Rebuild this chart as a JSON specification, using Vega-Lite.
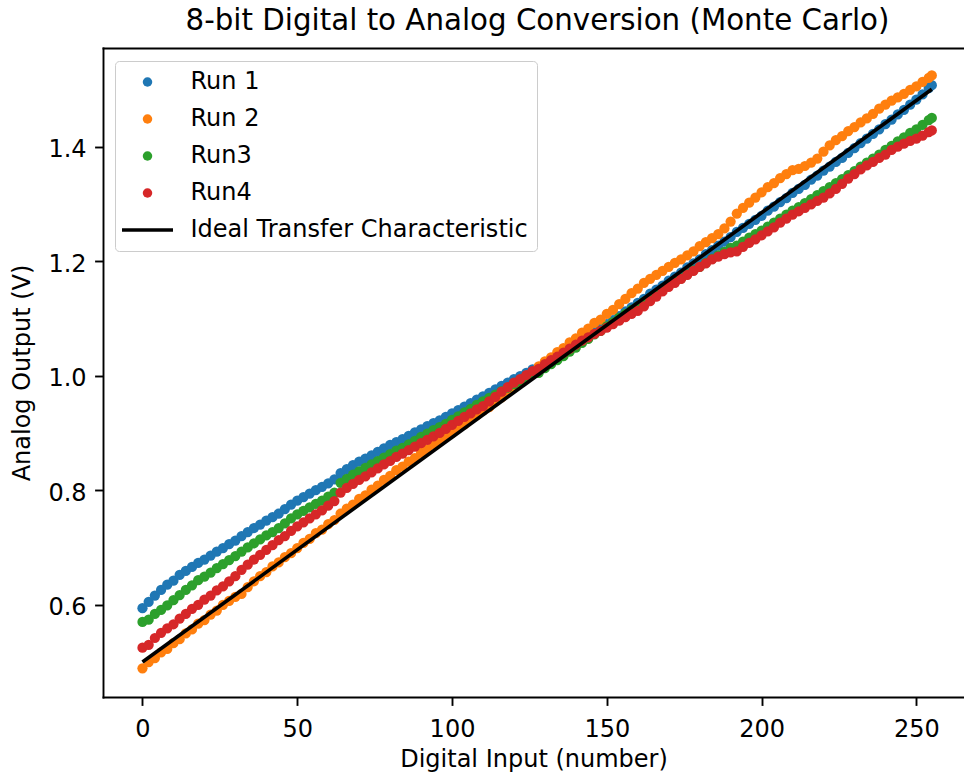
{
"$schema": "https://vega.github.io/schema/vega-lite/v6.json",
"autosize": {"type": "none"},
"padding": {"left": 103, "top": 48, "right": 0, "bottom": 80},
"width": 861,
"height": 649,
"config": {"font": "DejaVu Sans", "view": {"stroke": null}},
"title": {"text": "8-bit Digital to Analog Conversion (Monte Carlo)", "fontSize": 29.3, "font": "DejaVu Sans", "fontWeight": "normal", "color": "black", "anchor": "middle", "frame": "group", "baseline": "alphabetic", "offset": -11, "dx": 4},
"datasets": {
"run1": [{"x":0,"y":0.594},{"x":2,"y":0.605},{"x":4,"y":0.616},{"x":6,"y":0.626},{"x":8,"y":0.635},{"x":10,"y":0.642},{"x":12,"y":0.652},{"x":14,"y":0.659},{"x":16,"y":0.666},{"x":18,"y":0.673},{"x":20,"y":0.679},{"x":22,"y":0.686},{"x":24,"y":0.693},{"x":26,"y":0.699},{"x":28,"y":0.706},{"x":30,"y":0.712},{"x":32,"y":0.720},{"x":34,"y":0.727},{"x":36,"y":0.734},{"x":38,"y":0.740},{"x":40,"y":0.747},{"x":42,"y":0.753},{"x":44,"y":0.759},{"x":46,"y":0.767},{"x":48,"y":0.775},{"x":50,"y":0.782},{"x":52,"y":0.788},{"x":54,"y":0.794},{"x":56,"y":0.800},{"x":58,"y":0.806},{"x":60,"y":0.812},{"x":62,"y":0.819},{"x":64,"y":0.830},{"x":66,"y":0.837},{"x":68,"y":0.844},{"x":70,"y":0.850},{"x":72,"y":0.855},{"x":74,"y":0.861},{"x":76,"y":0.867},{"x":78,"y":0.873},{"x":80,"y":0.879},{"x":82,"y":0.884},{"x":84,"y":0.889},{"x":86,"y":0.895},{"x":88,"y":0.901},{"x":90,"y":0.906},{"x":92,"y":0.912},{"x":94,"y":0.917},{"x":96,"y":0.922},{"x":98,"y":0.928},{"x":100,"y":0.934},{"x":102,"y":0.940},{"x":104,"y":0.946},{"x":106,"y":0.952},{"x":108,"y":0.958},{"x":110,"y":0.964},{"x":112,"y":0.970},{"x":114,"y":0.976},{"x":116,"y":0.982},{"x":118,"y":0.988},{"x":120,"y":0.994},{"x":122,"y":0.999},{"x":124,"y":1.005},{"x":126,"y":1.011},{"x":128,"y":1.012},{"x":130,"y":1.019},{"x":132,"y":1.026},{"x":134,"y":1.032},{"x":136,"y":1.039},{"x":138,"y":1.046},{"x":140,"y":1.054},{"x":142,"y":1.061},{"x":144,"y":1.068},{"x":146,"y":1.076},{"x":148,"y":1.082},{"x":150,"y":1.090},{"x":152,"y":1.097},{"x":154,"y":1.104},{"x":156,"y":1.112},{"x":158,"y":1.119},{"x":160,"y":1.127},{"x":162,"y":1.134},{"x":164,"y":1.143},{"x":166,"y":1.150},{"x":168,"y":1.157},{"x":170,"y":1.166},{"x":172,"y":1.173},{"x":174,"y":1.180},{"x":176,"y":1.189},{"x":178,"y":1.196},{"x":180,"y":1.203},{"x":182,"y":1.212},{"x":184,"y":1.219},{"x":186,"y":1.227},{"x":188,"y":1.234},{"x":190,"y":1.242},{"x":192,"y":1.251},{"x":194,"y":1.258},{"x":196,"y":1.265},{"x":198,"y":1.272},{"x":200,"y":1.279},{"x":202,"y":1.288},{"x":204,"y":1.295},{"x":206,"y":1.303},{"x":208,"y":1.310},{"x":210,"y":1.319},{"x":212,"y":1.326},{"x":214,"y":1.333},{"x":216,"y":1.342},{"x":218,"y":1.349},{"x":220,"y":1.358},{"x":222,"y":1.365},{"x":224,"y":1.373},{"x":226,"y":1.380},{"x":228,"y":1.389},{"x":230,"y":1.397},{"x":232,"y":1.406},{"x":234,"y":1.414},{"x":236,"y":1.422},{"x":238,"y":1.430},{"x":240,"y":1.439},{"x":242,"y":1.447},{"x":244,"y":1.456},{"x":246,"y":1.464},{"x":248,"y":1.473},{"x":250,"y":1.482},{"x":252,"y":1.491},{"x":254,"y":1.502},{"x":255,"y":1.507}],
"run2": [{"x":0,"y":0.489},{"x":2,"y":0.500},{"x":4,"y":0.507},{"x":6,"y":0.517},{"x":8,"y":0.523},{"x":10,"y":0.533},{"x":12,"y":0.540},{"x":14,"y":0.550},{"x":16,"y":0.557},{"x":18,"y":0.567},{"x":20,"y":0.573},{"x":22,"y":0.583},{"x":24,"y":0.590},{"x":26,"y":0.600},{"x":28,"y":0.607},{"x":30,"y":0.614},{"x":32,"y":0.619},{"x":34,"y":0.631},{"x":36,"y":0.641},{"x":38,"y":0.650},{"x":40,"y":0.657},{"x":42,"y":0.667},{"x":44,"y":0.674},{"x":46,"y":0.683},{"x":48,"y":0.690},{"x":50,"y":0.699},{"x":52,"y":0.708},{"x":54,"y":0.715},{"x":56,"y":0.725},{"x":58,"y":0.731},{"x":60,"y":0.741},{"x":62,"y":0.748},{"x":64,"y":0.759},{"x":66,"y":0.768},{"x":68,"y":0.775},{"x":70,"y":0.785},{"x":72,"y":0.791},{"x":74,"y":0.801},{"x":76,"y":0.808},{"x":78,"y":0.818},{"x":80,"y":0.825},{"x":82,"y":0.835},{"x":84,"y":0.841},{"x":86,"y":0.850},{"x":88,"y":0.856},{"x":90,"y":0.865},{"x":92,"y":0.871},{"x":94,"y":0.880},{"x":96,"y":0.885},{"x":98,"y":0.894},{"x":100,"y":0.900},{"x":102,"y":0.909},{"x":104,"y":0.915},{"x":106,"y":0.924},{"x":108,"y":0.931},{"x":110,"y":0.939},{"x":112,"y":0.945},{"x":114,"y":0.955},{"x":116,"y":0.962},{"x":118,"y":0.972},{"x":120,"y":0.979},{"x":122,"y":0.988},{"x":124,"y":0.997},{"x":126,"y":1.006},{"x":128,"y":1.016},{"x":130,"y":1.025},{"x":132,"y":1.032},{"x":134,"y":1.041},{"x":136,"y":1.048},{"x":138,"y":1.058},{"x":140,"y":1.065},{"x":142,"y":1.075},{"x":144,"y":1.082},{"x":146,"y":1.092},{"x":148,"y":1.098},{"x":150,"y":1.108},{"x":152,"y":1.115},{"x":154,"y":1.125},{"x":156,"y":1.134},{"x":158,"y":1.144},{"x":160,"y":1.152},{"x":162,"y":1.162},{"x":164,"y":1.169},{"x":166,"y":1.176},{"x":168,"y":1.183},{"x":170,"y":1.190},{"x":172,"y":1.197},{"x":174,"y":1.203},{"x":176,"y":1.210},{"x":178,"y":1.217},{"x":180,"y":1.226},{"x":182,"y":1.233},{"x":184,"y":1.240},{"x":186,"y":1.247},{"x":188,"y":1.257},{"x":190,"y":1.269},{"x":192,"y":1.283},{"x":194,"y":1.293},{"x":196,"y":1.302},{"x":198,"y":1.311},{"x":200,"y":1.320},{"x":202,"y":1.329},{"x":204,"y":1.336},{"x":206,"y":1.345},{"x":208,"y":1.352},{"x":210,"y":1.359},{"x":212,"y":1.361},{"x":214,"y":1.366},{"x":216,"y":1.372},{"x":218,"y":1.379},{"x":220,"y":1.391},{"x":222,"y":1.402},{"x":224,"y":1.411},{"x":226,"y":1.418},{"x":228,"y":1.427},{"x":230,"y":1.434},{"x":232,"y":1.442},{"x":234,"y":1.449},{"x":236,"y":1.457},{"x":238,"y":1.466},{"x":240,"y":1.473},{"x":242,"y":1.480},{"x":244,"y":1.486},{"x":246,"y":1.492},{"x":248,"y":1.499},{"x":250,"y":1.505},{"x":252,"y":1.513},{"x":254,"y":1.520},{"x":255,"y":1.524}],
"run3": [{"x":0,"y":0.570},{"x":2,"y":0.574},{"x":4,"y":0.584},{"x":6,"y":0.591},{"x":8,"y":0.599},{"x":10,"y":0.608},{"x":12,"y":0.617},{"x":14,"y":0.626},{"x":16,"y":0.634},{"x":18,"y":0.643},{"x":20,"y":0.649},{"x":22,"y":0.656},{"x":24,"y":0.664},{"x":26,"y":0.671},{"x":28,"y":0.678},{"x":30,"y":0.685},{"x":32,"y":0.693},{"x":34,"y":0.700},{"x":36,"y":0.707},{"x":38,"y":0.714},{"x":40,"y":0.721},{"x":42,"y":0.727},{"x":44,"y":0.734},{"x":46,"y":0.742},{"x":48,"y":0.751},{"x":50,"y":0.758},{"x":52,"y":0.764},{"x":54,"y":0.770},{"x":56,"y":0.776},{"x":58,"y":0.782},{"x":60,"y":0.789},{"x":62,"y":0.796},{"x":64,"y":0.813},{"x":66,"y":0.820},{"x":68,"y":0.827},{"x":70,"y":0.833},{"x":72,"y":0.839},{"x":74,"y":0.845},{"x":76,"y":0.851},{"x":78,"y":0.857},{"x":80,"y":0.863},{"x":82,"y":0.869},{"x":84,"y":0.874},{"x":86,"y":0.880},{"x":88,"y":0.886},{"x":90,"y":0.893},{"x":92,"y":0.899},{"x":94,"y":0.905},{"x":96,"y":0.910},{"x":98,"y":0.916},{"x":100,"y":0.923},{"x":102,"y":0.929},{"x":104,"y":0.936},{"x":106,"y":0.942},{"x":108,"y":0.949},{"x":110,"y":0.955},{"x":112,"y":0.961},{"x":114,"y":0.967},{"x":116,"y":0.973},{"x":118,"y":0.979},{"x":120,"y":0.985},{"x":122,"y":0.990},{"x":124,"y":0.996},{"x":126,"y":1.003},{"x":128,"y":1.005},{"x":130,"y":1.013},{"x":132,"y":1.020},{"x":134,"y":1.027},{"x":136,"y":1.034},{"x":138,"y":1.042},{"x":140,"y":1.049},{"x":142,"y":1.057},{"x":144,"y":1.064},{"x":146,"y":1.072},{"x":148,"y":1.078},{"x":150,"y":1.086},{"x":152,"y":1.093},{"x":154,"y":1.101},{"x":156,"y":1.108},{"x":158,"y":1.115},{"x":160,"y":1.121},{"x":162,"y":1.129},{"x":164,"y":1.136},{"x":166,"y":1.143},{"x":168,"y":1.150},{"x":170,"y":1.157},{"x":172,"y":1.164},{"x":174,"y":1.170},{"x":176,"y":1.177},{"x":178,"y":1.184},{"x":180,"y":1.190},{"x":182,"y":1.197},{"x":184,"y":1.204},{"x":186,"y":1.210},{"x":188,"y":1.216},{"x":190,"y":1.223},{"x":192,"y":1.227},{"x":194,"y":1.234},{"x":196,"y":1.241},{"x":198,"y":1.247},{"x":200,"y":1.253},{"x":202,"y":1.260},{"x":204,"y":1.267},{"x":206,"y":1.274},{"x":208,"y":1.281},{"x":210,"y":1.288},{"x":212,"y":1.294},{"x":214,"y":1.301},{"x":216,"y":1.308},{"x":218,"y":1.315},{"x":220,"y":1.322},{"x":222,"y":1.329},{"x":224,"y":1.336},{"x":226,"y":1.343},{"x":228,"y":1.350},{"x":230,"y":1.357},{"x":232,"y":1.365},{"x":234,"y":1.372},{"x":236,"y":1.379},{"x":238,"y":1.386},{"x":240,"y":1.394},{"x":242,"y":1.401},{"x":244,"y":1.409},{"x":246,"y":1.416},{"x":248,"y":1.424},{"x":250,"y":1.430},{"x":252,"y":1.438},{"x":254,"y":1.446},{"x":255,"y":1.450}],
"run4": [{"x":0,"y":0.525},{"x":2,"y":0.530},{"x":4,"y":0.542},{"x":6,"y":0.551},{"x":8,"y":0.559},{"x":10,"y":0.566},{"x":12,"y":0.576},{"x":14,"y":0.584},{"x":16,"y":0.593},{"x":18,"y":0.600},{"x":20,"y":0.609},{"x":22,"y":0.616},{"x":24,"y":0.625},{"x":26,"y":0.632},{"x":28,"y":0.641},{"x":30,"y":0.650},{"x":32,"y":0.661},{"x":34,"y":0.670},{"x":36,"y":0.679},{"x":38,"y":0.687},{"x":40,"y":0.696},{"x":42,"y":0.704},{"x":44,"y":0.713},{"x":46,"y":0.720},{"x":48,"y":0.729},{"x":50,"y":0.737},{"x":52,"y":0.744},{"x":54,"y":0.751},{"x":56,"y":0.758},{"x":58,"y":0.765},{"x":60,"y":0.773},{"x":62,"y":0.781},{"x":64,"y":0.796},{"x":66,"y":0.804},{"x":68,"y":0.811},{"x":70,"y":0.818},{"x":72,"y":0.824},{"x":74,"y":0.831},{"x":76,"y":0.838},{"x":78,"y":0.845},{"x":80,"y":0.851},{"x":82,"y":0.858},{"x":84,"y":0.864},{"x":86,"y":0.870},{"x":88,"y":0.876},{"x":90,"y":0.882},{"x":92,"y":0.888},{"x":94,"y":0.894},{"x":96,"y":0.900},{"x":98,"y":0.907},{"x":100,"y":0.914},{"x":102,"y":0.921},{"x":104,"y":0.928},{"x":106,"y":0.934},{"x":108,"y":0.941},{"x":110,"y":0.947},{"x":112,"y":0.955},{"x":114,"y":0.963},{"x":116,"y":0.972},{"x":118,"y":0.980},{"x":120,"y":0.988},{"x":122,"y":0.994},{"x":124,"y":1.001},{"x":126,"y":1.008},{"x":128,"y":1.012},{"x":130,"y":1.020},{"x":132,"y":1.027},{"x":134,"y":1.033},{"x":136,"y":1.040},{"x":138,"y":1.047},{"x":140,"y":1.054},{"x":142,"y":1.061},{"x":144,"y":1.067},{"x":146,"y":1.073},{"x":148,"y":1.078},{"x":150,"y":1.084},{"x":152,"y":1.090},{"x":154,"y":1.096},{"x":156,"y":1.102},{"x":158,"y":1.108},{"x":160,"y":1.113},{"x":162,"y":1.121},{"x":164,"y":1.130},{"x":166,"y":1.138},{"x":168,"y":1.147},{"x":170,"y":1.155},{"x":172,"y":1.162},{"x":174,"y":1.169},{"x":176,"y":1.176},{"x":178,"y":1.183},{"x":180,"y":1.190},{"x":182,"y":1.196},{"x":184,"y":1.203},{"x":186,"y":1.208},{"x":188,"y":1.212},{"x":190,"y":1.215},{"x":192,"y":1.217},{"x":194,"y":1.225},{"x":196,"y":1.232},{"x":198,"y":1.238},{"x":200,"y":1.245},{"x":202,"y":1.252},{"x":204,"y":1.259},{"x":206,"y":1.267},{"x":208,"y":1.274},{"x":210,"y":1.281},{"x":212,"y":1.287},{"x":214,"y":1.293},{"x":216,"y":1.299},{"x":218,"y":1.305},{"x":220,"y":1.311},{"x":222,"y":1.318},{"x":224,"y":1.326},{"x":226,"y":1.335},{"x":228,"y":1.344},{"x":230,"y":1.352},{"x":232,"y":1.360},{"x":234,"y":1.367},{"x":236,"y":1.373},{"x":238,"y":1.380},{"x":240,"y":1.386},{"x":242,"y":1.394},{"x":244,"y":1.400},{"x":246,"y":1.405},{"x":248,"y":1.410},{"x":250,"y":1.414},{"x":252,"y":1.419},{"x":254,"y":1.425},{"x":255,"y":1.428}],
"ideal": [{"x":0,"y":0.5},{"x":255,"y":1.5}]
},
"encoding": {
"y": {"field": "y", "type": "quantitative", "scale": {"domain": [0.439, 1.572], "nice": false, "zero": false},
 "axis": {"title": "Analog Output (V)", "values": [0.6, 0.8, 1.0, 1.2, 1.4], "format": ".1f", "grid": false,
  "labelFont": "DejaVu Sans", "labelFontSize": 24, "labelColor": "black", "labelPadding": 8.5, "labelOffset": 3,
  "tickColor": "black", "tickWidth": 1.9, "tickSize": 8.4, "domainColor": "black", "domainWidth": 1.9, "domainCap": "square",
  "titleFont": "DejaVu Sans", "titleFontSize": 24, "titleFontWeight": "normal", "titleColor": "black", "titlePadding": 13}}
},
"resolve": {"axis": {"x": "independent"}},
"layer": [
{"data": {"name": "run1"}, "mark": {"type": "point", "filled": true, "opacity": 1, "size": 105, "shape": "circle"},
 "encoding": {
  "x": {"field": "x", "type": "quantitative", "scale": {"domain": [-12.75, 265.4], "nice": false, "zero": false},
   "axis": {"orient": "bottom", "title": "Digital Input (number)", "values": [0, 50, 100, 150, 200, 250], "grid": false,
    "labelFont": "DejaVu Sans", "labelFontSize": 24, "labelColor": "black", "labelPadding": 12, "labelFlush": false,
    "tickColor": "black", "tickWidth": 1.9, "tickSize": 8.4, "domainColor": "black", "domainWidth": 1.9, "domainCap": "square",
    "titleFont": "DejaVu Sans", "titleFontSize": 24, "titleFontWeight": "normal", "titleColor": "black", "titlePadding": 6}},
  "color": {"datum": "Run 1", "type": "nominal",
   "scale": {"domain": ["Run 1", "Run 2", "Run3", "Run4", "Ideal Transfer Characteristic"], "range": ["#1f77b4", "#ff7f0e", "#2ca02c", "#d62728", "#000000"]},
   "legend": {"orient": "none", "legendX": 12, "legendY": 13, "title": null,
    "labelFont": "DejaVu Sans", "labelFontSize": 24, "labelColor": "black", "labelLimit": 600,
    "symbolSize": 2601, "symbolStrokeWidth": 0, "symbolOpacity": 1, "symbolOffset": 11.5, "labelOffset": 31, "rowPadding": 13, "padding": 9,
    "strokeColor": "#cccccc", "fillColor": "rgba(255,255,255,0.8)", "cornerRadius": 4,
    "encode": {"symbols": {"update": {
     "shape": {"signal": "datum.value === 'Ideal Transfer Characteristic' ? 'stroke' : 'circle'"},
     "size": {"signal": "datum.value === 'Ideal Transfer Characteristic' ? 2601 : 90"},
     "stroke": {"signal": "datum.value === 'Ideal Transfer Characteristic' ? 'black' : 'transparent'"},
     "strokeWidth": {"signal": "datum.value === 'Ideal Transfer Characteristic' ? 3.6 : 0"}
    }}}}}
 }},
{"data": {"name": "run2"}, "mark": {"type": "point", "filled": true, "opacity": 1, "size": 105, "shape": "circle"},
 "encoding": {
  "x": {"field": "x", "type": "quantitative", "scale": {"domain": [-12.75, 265.4], "nice": false, "zero": false}, "axis": null},
  "color": {"datum": "Run 2", "type": "nominal", "scale": {"domain": ["Run 1", "Run 2", "Run3", "Run4", "Ideal Transfer Characteristic"], "range": ["#1f77b4", "#ff7f0e", "#2ca02c", "#d62728", "#000000"]}, "legend": null}
 }},
{"data": {"name": "run3"}, "mark": {"type": "point", "filled": true, "opacity": 1, "size": 105, "shape": "circle"},
 "encoding": {
  "x": {"field": "x", "type": "quantitative", "scale": {"domain": [-12.75, 265.4], "nice": false, "zero": false}, "axis": null},
  "color": {"datum": "Run3", "type": "nominal", "scale": {"domain": ["Run 1", "Run 2", "Run3", "Run4", "Ideal Transfer Characteristic"], "range": ["#1f77b4", "#ff7f0e", "#2ca02c", "#d62728", "#000000"]}, "legend": null}
 }},
{"data": {"name": "run4"}, "mark": {"type": "point", "filled": true, "opacity": 1, "size": 105, "shape": "circle"},
 "encoding": {
  "x": {"field": "x", "type": "quantitative", "scale": {"domain": [-12.75, 265.4], "nice": false, "zero": false}, "axis": null},
  "color": {"datum": "Run4", "type": "nominal", "scale": {"domain": ["Run 1", "Run 2", "Run3", "Run4", "Ideal Transfer Characteristic"], "range": ["#1f77b4", "#ff7f0e", "#2ca02c", "#d62728", "#000000"]}, "legend": null}
 }},
{"data": {"name": "ideal"}, "mark": {"type": "line", "color": "black", "strokeWidth": 3.6},
 "encoding": {
  "x": {"field": "x", "type": "quantitative", "scale": {"domain": [-12.75, 265.4], "nice": false, "zero": false},
   "axis": {"orient": "top", "labels": false, "ticks": false, "title": null, "grid": false, "domainColor": "black", "domainWidth": 1.9, "domainCap": "square"}}
 }}
]
}
